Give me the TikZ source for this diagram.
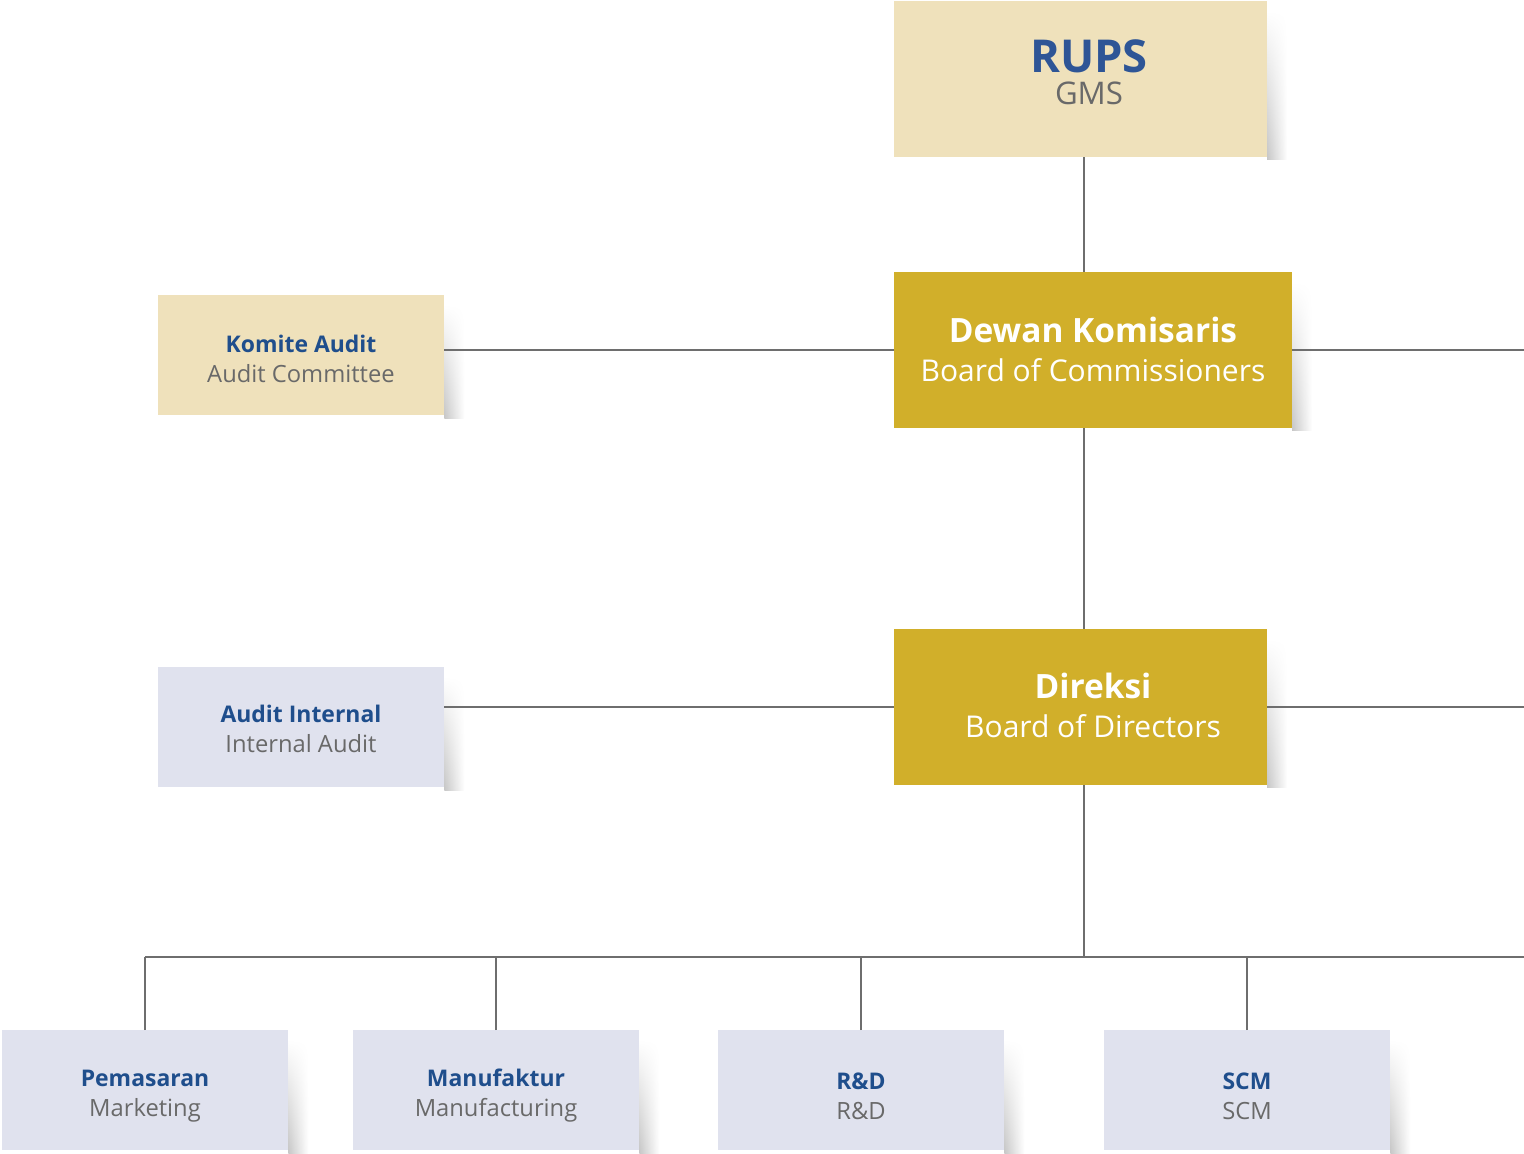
\documentclass[tikz,border=0pt]{standalone}
\usepackage{fontspec}
\setmainfont{Open Sans}
\usetikzlibrary{positioning,fadings}

\definecolor{beige}{RGB}{239,225,187}
\definecolor{gold}{RGB}{209,175,42}
\definecolor{paleblue}{RGB}{224,226,238}
\definecolor{ttlblue}{RGB}{31,78,140}
\definecolor{subgray}{RGB}{105,105,105}
\definecolor{linegray}{RGB}{110,110,110}

\tikzset{
  box/.style={rectangle,inner sep=0pt,outer sep=0pt},
  conn/.style={draw=linegray,line width=1.8pt},
  smalltxt/.style={align=center,font=\fontsize{17.8}{22.5}\selectfont},
  bigtxt/.style={align=center,font=\fontsize{22.5}{29.25}\selectfont,text=white},
}

\begin{document}
\begin{tikzpicture}[x=0.75pt,y=-0.75pt]
\useasboundingbox (0,0) rectangle (1524,1153);

% boxes
\node[box,fill=beige,minimum width=280,minimum height=117] (rups) at (1080.5,79) {};
\node[box,fill=beige,minimum width=215,minimum height=90] (ka) at (301,355) {};
\node[box,fill=gold,minimum width=298.5,minimum height=117] (dk) at (1093,350) {};
\node[box,fill=paleblue,minimum width=215,minimum height=90] (ai) at (301,727) {};
\node[box,fill=gold,minimum width=280,minimum height=117] (dir) at (1080.5,707) {};

\foreach \x/\name in {145/mkt, 496/mfg, 861/rnd, 1247/scm}{
    \node[box,fill=paleblue,minimum width=215,minimum height=90] (\name) at (\x,1090) {};
}

% shadows
\foreach \n in {rups,ka,dk,ai,dir,mkt,mfg,rnd,scm}{
    \shade[left color=black!22,right color=white,path fading=north] ([shift={(0,10)}]\n.north east) rectangle ([shift={(20,3)}]\n.south east);
}
% redraw boxes over shadow edge
\foreach \n/\c in {rups/beige,ka/beige,dk/gold,ai/paleblue,dir/gold,mkt/paleblue,mfg/paleblue,rnd/paleblue,scm/paleblue}{
    \fill[\c] (\n.north west) rectangle (\n.south east);
}

% texts
\node[align=center,font=\fontsize{23.4}{24}\selectfont,text=subgray] (rupstxt) at (1089,72)
  {{\bfseries\fontsize{34}{24}\selectfont\color[RGB]{46,85,150}RUPS}\\GMS};
\node[bigtxt] (dktxt) at (1093,349)
  {{\bfseries\fontsize{25.1}{29.25}\selectfont Dewan Komisaris}\\Board of Commissioners};
\node[bigtxt] (dirtxt) at (1093,705)
  {{\bfseries\fontsize{25.1}{29.25}\selectfont Direksi}\\Board of Directors};
\node[smalltxt,text=subgray] (katxt) at (301,359)
  {{\bfseries\fontsize{17.2}{22.5}\selectfont\color{ttlblue}Komite Audit}\\Audit Committee};
\node[smalltxt,text=subgray] (aitxt) at (301,729)
  {{\bfseries\fontsize{17.2}{22.5}\selectfont\color{ttlblue}Audit Internal}\\Internal Audit};
\foreach \name/\ttl/\sub in {mkt/Pemasaran/Marketing, mfg/Manufaktur/Manufacturing, rnd/R\&D/R\&D, scm/SCM/SCM}{
    \node[smalltxt,text=subgray] (\name txt) at ([shift={(0,6)}]\name.center)
      {{\bfseries\fontsize{17.2}{22.5}\selectfont\color{ttlblue}\ttl}\\\sub};
}

% connectors
\coordinate (trunk) at (1084,0);
\coordinate (redge) at (1524,0);
\coordinate (bus) at (1084,957);
\draw[conn] (rups.south -| trunk) -- (dk.north -| trunk);
\draw[conn] (dk.south -| trunk) -- (dir.north -| trunk);
\draw[conn] (dir.south -| trunk) -- (bus);
\draw[conn] (dk.west) -- (ka.east |- dk.west);
\draw[conn] (dk.east) -- (dk.east -| redge);
\draw[conn] (dir.west) -- (ai.east |- dir.west);
\draw[conn] (dir.east) -- (dir.east -| redge);
\draw[conn] (mkt.north |- bus) -- (bus -| redge);
\foreach \name in {mkt,mfg,rnd,scm}{
    \draw[conn] (\name.north) -- (\name.north |- bus);
}
\end{tikzpicture}
\end{document}
